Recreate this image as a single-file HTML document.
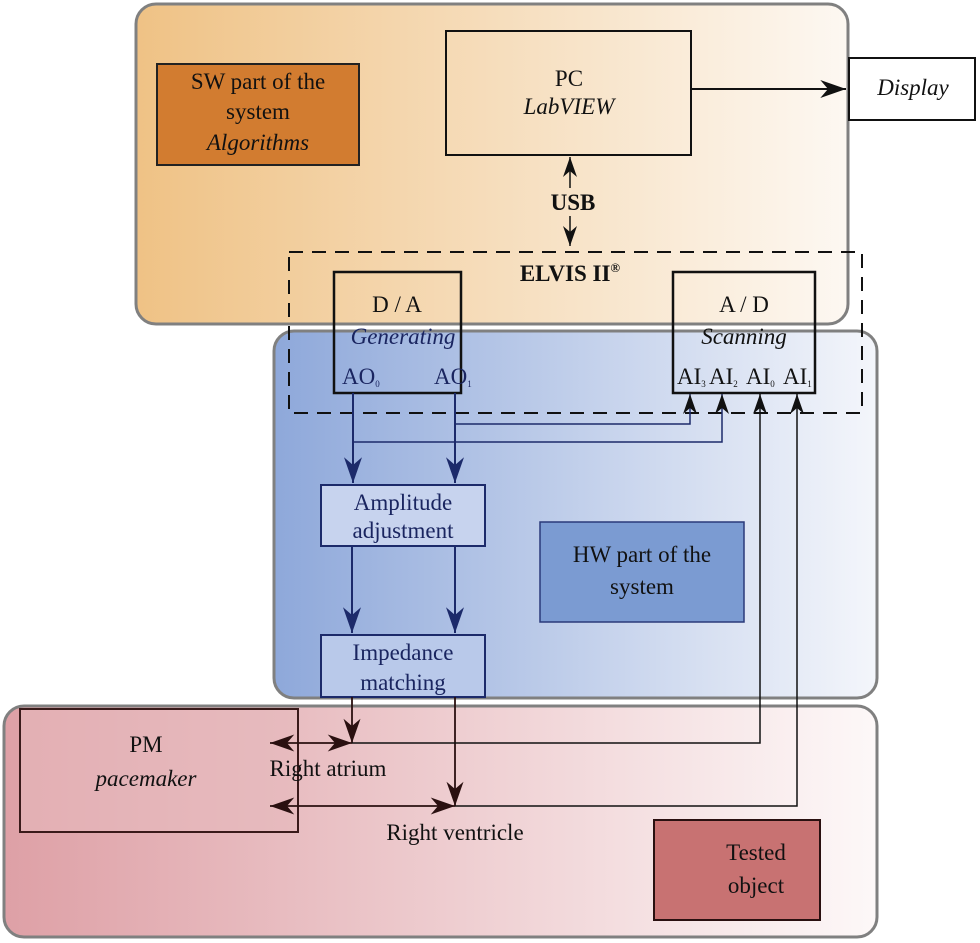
<!DOCTYPE html>
<html><head><meta charset="utf-8"><style>
html,body{margin:0;padding:0;background:#fff}
svg{display:block}
text{font-family:"Liberation Serif",serif;font-size:23px;fill:#111}
.b{fill:#1a2560}
</style></head><body>
<svg width="980" height="943" viewBox="0 0 980 943" xmlns="http://www.w3.org/2000/svg">
<defs>
<linearGradient id="go" x1="0" x2="1" y1="0" y2="0"><stop offset="0" stop-color="#efc285"/><stop offset="1" stop-color="#fdf8f2"/></linearGradient>
<linearGradient id="gb" x1="0" x2="1" y1="0" y2="0"><stop offset="0" stop-color="#8ea8da"/><stop offset="1" stop-color="#f4f6fb"/></linearGradient>
<linearGradient id="gr" x1="0" x2="1" y1="0" y2="0"><stop offset="0" stop-color="#dea0a6"/><stop offset="1" stop-color="#fdf8f8"/></linearGradient>
<marker id="ak" viewBox="0 0 20 14" refX="20" refY="7" markerWidth="26" markerHeight="18" markerUnits="userSpaceOnUse" orient="auto-start-reverse"><path d="M0,0 L20,7 L0,14 L6,7 Z" fill="#111"/></marker>
<marker id="ab" viewBox="0 0 20 14" refX="20" refY="7" markerWidth="28" markerHeight="18" markerUnits="userSpaceOnUse" orient="auto-start-reverse"><path d="M0,0 L20,7 L0,14 L6,7 Z" fill="#1c2a6a"/></marker>
<marker id="ar" viewBox="0 0 20 14" refX="20" refY="7" markerWidth="26" markerHeight="17" markerUnits="userSpaceOnUse" orient="auto-start-reverse"><path d="M0,0 L20,7 L0,14 L6,7 Z" fill="#2a1010"/></marker>
<marker id="as" viewBox="0 0 20 14" refX="20" refY="7" markerWidth="22" markerHeight="14" markerUnits="userSpaceOnUse" orient="auto-start-reverse"><path d="M0,0 L20,7 L0,14 L6,7 Z" fill="#111"/></marker>
</defs>
<rect x="136" y="4" width="712" height="320" rx="20" fill="url(#go)" stroke="#808080" stroke-width="3"/>
<rect x="274" y="331" width="603" height="367" rx="20" fill="url(#gb)" stroke="#808080" stroke-width="3"/>
<rect x="4" y="706" width="873" height="231" rx="20" fill="url(#gr)" stroke="#808080" stroke-width="3"/>

<rect x="157" y="64" width="202" height="101" fill="#d27c30" stroke="#222" stroke-width="2"/>
<text x="258" y="89" text-anchor="middle">SW part of the</text>
<text x="258" y="119" text-anchor="middle">system</text>
<text x="258" y="150" text-anchor="middle" font-style="italic">Algorithms</text>

<rect x="446" y="31" width="245" height="124" fill="none" stroke="#111" stroke-width="2"/>
<text x="569" y="86" text-anchor="middle">PC</text>
<text x="569" y="114" text-anchor="middle" font-style="italic">LabVIEW</text>
<rect x="849" y="58" width="126" height="62" fill="#fff" stroke="#111" stroke-width="2"/>
<text x="913" y="95" text-anchor="middle" font-style="italic">Display</text>
<line x1="691" y1="89" x2="846" y2="89" stroke="#111" stroke-width="2" marker-end="url(#ak)"/>
<line x1="570" y1="157" x2="570" y2="188" stroke="#111" stroke-width="1.5" marker-start="url(#as)"/>
<line x1="570" y1="216" x2="570" y2="246" stroke="#111" stroke-width="1.5" marker-end="url(#as)"/>
<text x="573" y="210" text-anchor="middle" font-weight="bold" font-size="21">USB</text>

<rect x="289" y="252" width="573" height="161" fill="none" stroke="#111" stroke-width="2" stroke-dasharray="14,9"/>
<text x="570" y="281" text-anchor="middle" font-weight="bold" font-size="21">ELVIS II<tspan font-size="13" dy="-9">®</tspan></text>

<rect x="334" y="272" width="127" height="121" fill="none" stroke="#111" stroke-width="2.5"/>
<text x="397" y="312" text-anchor="middle">D / A</text>
<text x="403" y="344" text-anchor="middle" font-style="italic" class="b">Generating</text>
<text x="342" y="384" font-size="14" class="b">AO<tspan font-size="9" dy="3">0</tspan></text>
<text x="434" y="384" font-size="14" class="b">AO<tspan font-size="9" dy="3">1</tspan></text>

<rect x="673" y="272" width="142" height="121" fill="none" stroke="#111" stroke-width="2.5"/>
<text x="744" y="312" text-anchor="middle">A / D</text>
<text x="744" y="344" text-anchor="middle" font-style="italic">Scanning</text>
<text x="677" y="384" font-size="14">AI<tspan font-size="9" dy="3">3</tspan></text>
<text x="709" y="384" font-size="14">AI<tspan font-size="9" dy="3">2</tspan></text>
<text x="746" y="384" font-size="14">AI<tspan font-size="9" dy="3">0</tspan></text>
<text x="783" y="384" font-size="14">AI<tspan font-size="9" dy="3">1</tspan></text>

<g stroke="#1c2a6a" stroke-width="2" fill="none">
<polyline points="455,424 690,424 690,394" marker-end="url(#as)" stroke-width="1.5"/>
<polyline points="353,442 722,442 722,394" marker-end="url(#as)" stroke-width="1.5"/>
<line x1="353" y1="393" x2="353" y2="483" marker-end="url(#ab)"/>
<line x1="455" y1="393" x2="455" y2="483" marker-end="url(#ab)"/>
<line x1="352" y1="546" x2="352" y2="633" marker-end="url(#ab)"/>
<line x1="455" y1="546" x2="455" y2="633" marker-end="url(#ab)"/>
</g>
<rect x="321" y="485" width="164" height="61" fill="#c7d3ee" stroke="#1c2a6a" stroke-width="2"/>
<text x="403" y="510" text-anchor="middle" class="b">Amplitude</text>
<text x="403" y="538" text-anchor="middle" class="b">adjustment</text>
<rect x="321" y="635" width="164" height="62" fill="#b9c9ea" stroke="#1c2a6a" stroke-width="2"/>
<text x="403" y="660" text-anchor="middle" class="b">Impedance</text>
<text x="403" y="690" text-anchor="middle" class="b">matching</text>
<rect x="540" y="522" width="204" height="100" fill="#7b9bd2" stroke="#2a3a7a" stroke-width="1.5"/>
<text x="642" y="562" text-anchor="middle">HW part of the</text>
<text x="642" y="594" text-anchor="middle">system</text>

<rect x="20" y="709" width="278" height="123" fill="#e6b9bc" fill-opacity="0.6" stroke="#3a1a1a" stroke-width="2"/>
<text x="146" y="752" text-anchor="middle">PM</text>
<text x="146" y="786" text-anchor="middle" font-style="italic">pacemaker</text>
<rect x="654" y="820" width="166" height="100" fill="#c87272" stroke="#2a1010" stroke-width="2"/>
<text x="756" y="860" text-anchor="middle">Tested</text>
<text x="756" y="893" text-anchor="middle">object</text>

<g stroke="#2a1010" stroke-width="1.8" fill="none">
<line x1="352" y1="697" x2="352" y2="743" marker-end="url(#ar)"/>
<line x1="455" y1="697" x2="455" y2="806" marker-end="url(#ar)"/>
<line x1="270" y1="743" x2="352" y2="743" marker-start="url(#ar)" marker-end="url(#ar)"/>
<line x1="270" y1="806" x2="455" y2="806" marker-start="url(#ar)" marker-end="url(#ar)"/>
</g>
<g stroke="#111" stroke-width="1.5" fill="none">
<polyline points="352,743 760,743 760,394" marker-end="url(#as)"/>
<polyline points="455,806 797,806 797,394" marker-end="url(#as)"/>
</g>
<text x="328" y="776" text-anchor="middle">Right atrium</text>
<text x="455" y="840" text-anchor="middle">Right ventricle</text>
</svg>
</body></html>
